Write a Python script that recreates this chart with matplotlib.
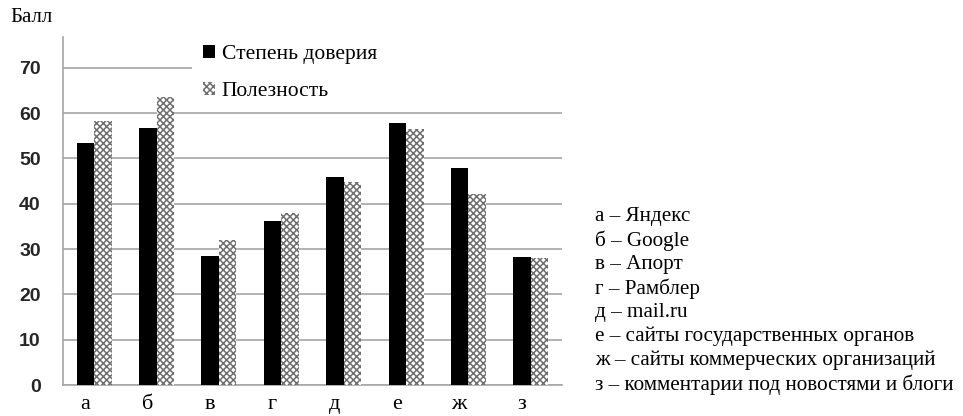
import matplotlib
matplotlib.use('Agg')
import matplotlib.pyplot as plt
import matplotlib.patches as mpatches
import numpy as np

# data
categories = ['а', 'б', 'в', 'г', 'д', 'е', 'ж', 'з']
trust = [53.4, 56.7, 28.4, 36.3, 45.8, 57.9, 47.8, 28.3]
usefulness = [58.3, 63.6, 31.9, 38.0, 44.9, 56.4, 42.1, 28.0]
yticks = [0, 10, 20, 30, 40, 50, 60, 70]
key_lines = ['а – Яндекс', 'б – Google', 'в – Апорт', 'г – Рамблер', 'д – mail.ru',
             'е – сайты государственных органов', 'ж – сайты коммерческих организаций',
             'з – комментарии под новостями и блоги']

serif = ['Liberation Serif', 'DejaVu Serif']
sans = ['Liberation Sans', 'DejaVu Sans']
plt.rcParams['hatch.linewidth'] = 1.1

fig = plt.figure(figsize=(9.63, 4.16), dpi=100)
ax = fig.add_axes([63 / 963, 1 - 385 / 416, (562 - 63) / 963, (385 - 37) / 416])

x = np.arange(len(categories))
w = 0.28
ax.bar(x - w / 2, trust, w, color='black', zorder=3, label='Степень доверия')
ax.bar(x + w / 2, usefulness, w, facecolor='white', hatch='xxxxx', edgecolor='#6e6e6e',
       linewidth=0, zorder=3, label='Полезность')

ax.set_xlim(-0.5, 7.5)
ax.set_ylim(0, 76.8)
ax.set_yticks(yticks)
ax.yaxis.grid(True, color='#a6a6a6', linewidth=1.2, zorder=0)
ax.set_axisbelow(True)
for s in ['top', 'right']:
    ax.spines[s].set_visible(False)
for s in ['left', 'bottom']:
    ax.spines[s].set_color('#a6a6a6')
    ax.spines[s].set_linewidth(1.2)
ax.tick_params(axis='y', length=0, pad=16, labelsize=14, labelcolor='#262626')
for t in ax.get_yticklabels():
    t.set_family(sans)
    t.set_fontweight('bold')
ax.set_xticks(x - 0.15)
ax.set_xticklabels(categories, family=serif, fontsize=16)
ax.tick_params(axis='x', length=0, pad=7)

# white block behind the legend
ax.add_patch(mpatches.Rectangle((192 / 963, 1 - 106 / 416), (562 - 192) / 963, 69 / 416,
                                transform=fig.transFigure, facecolor='white',
                                edgecolor='none', zorder=2))
leg = ax.legend(loc='upper left', bbox_to_anchor=(184 / 963, 1 - 26 / 416),
                bbox_transform=fig.transFigure, frameon=False,
                prop={'family': serif, 'size': 15.5}, handlelength=0.55,
                handleheight=0.55, handletextpad=0.3, labelspacing=0.8)
leg.set_zorder(4)

fig.text(10 / 963, 1 - 17 / 416, 'Балл', family=serif, fontsize=15, va='center')

for i, line in enumerate(key_lines):
    fig.text(595 / 963, 1 - (217 + i * 23.9) / 416, line, family=serif,
             fontsize=15.2, va='center')

fig.savefig('out.png', dpi=100)
